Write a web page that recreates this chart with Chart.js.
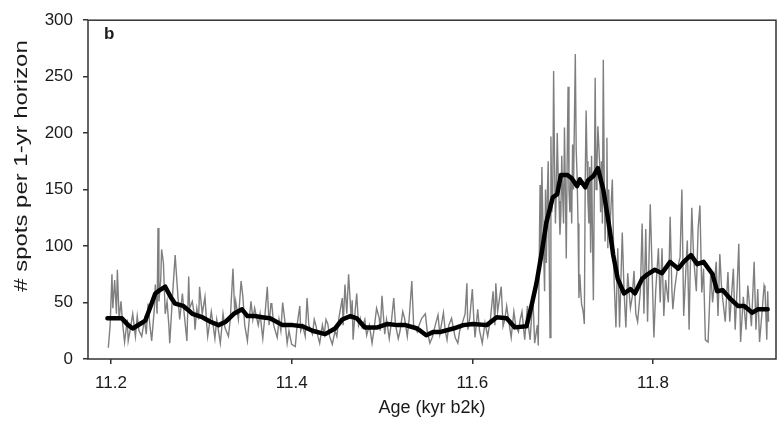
<!DOCTYPE html>
<html>
<head>
<meta charset="utf-8">
<script src="https://cdn.jsdelivr.net/npm/chart.js@4"></script>
<style>
  html, body { margin: 0; padding: 0; background: #fff; }
  canvas { display: block; }
</style>
</head>
<body>
<canvas id="spotsChart" width="784" height="423"></canvas>
<script>
// annual counts (grey); ages in years b2k
const annualAge = [
  11197,11199,11201,11202,11204,11206,11207,11209,11211,11213,11215,11218,11219,11221,11224,11227,11229,11231,11234,11237,
  11239,11241,11243,11245,11248,11249,11251,11252,11253,11255,11256,11258,11260,11262,11264,11265,11268,11271,11273,11275,
  11276,11279,11281,11284,11286,11287,11290,11292,11293,11295,11297,11298,11301,11304,11306,11307,11311,11313,11315,11317,
  11321,11324,11326,11330,11332,11335,11337,11338,11341,11344,11346,11348,11351,11353,11355,11357,11359,11363,11365,11368,
  11370,11373,11375,11377,
  11378,11380,11384,11386,11388,11390,11393,11395,11397,11400,11404,11406,11409,11410,11412,11415,11417,11419,11423,11425,
  11427,11429,11431,11434,11436,11438,11440,11442,11445,11448,11450,11452,11456,11457,11459,11461,11463,11466,11467,11468,
  11470,11472,11474,11476,11478,11481,11483,11486,11489,11491,11494,11497,11498,11500,11503,11505,11508,11510,11513,11515,
  11518,11520,11523,11525,11528,11530,11533,11535,11539,11541,11544,11548,11550,11553,11556,11559,11562,11564,
  11568,11570,11572,11574,11577,11581,11584,11586,11589,11592,11594,11595,11597,11600,11602,11603,11606,11608,11611,11614,
  11617,11620,11623,11625,11626,11628,11632,11634,11636,11638,11641,11643,11646,11648,11651,11653,11655,11657,11658,11661,
  11662,11664,11667,11669,11672,11673,
  11675,11676,11677,11678,11679,11680,11681,11682,11683,11684,
  11685,11686,11687,11688,11689,11690,11691,11692,11693,11694,
  11695,11696,11697,11698,11699,11700,11701,11702,11703,11704,
  11705,11706,11707,11708,11709,11710,11711,11712,11713,11714,
  11715,11716,11717,11718,11719,11720,11721,11722,11723,11724,
  11725,11726,11727,11728,11729,11730,11731,11732,11733,11734,
  11735,11736,11737,11738,11739,11740,11741,11742,11743,11744,
  11745,11746,11747,11748,11749,11750,11751,11752,
  11755,11757,11759,11761,11763,11766,11768,11770,11772,11775,11777,11779,11781,11783,11786,11788,11790,11792,11794,11797,
  11799,11801,11803,11806,11808,11810,11812,11814,11817,11819,11821,11822,11824,11827,11830,11832,11834,11838,11840,11841,
  11843,11845,11848,11850,11852,11854,11856,11858,11861,11864,11866,11870,11872,11874,11876,11880,11883,11885,11889,11891,
  11893,11895,11897,11900,11903,11905,11909,11912,11914,11916,11918,11921,11923,11924,11926,11927,11928
];
const annualSpots = [
  10,30,75,45,70,40,79,35,51,30,15,35,16,25,40,20,38,25,20,35,
  22,49,30,16,45,66,40,116,51,70,97,85,40,51,30,14,55,92,68,45,
  35,58,40,16,73,45,51,40,26,45,35,64,40,55,30,20,42,30,18,35,
  14,40,28,20,35,80,40,51,35,69,55,30,16,35,51,35,45,30,40,18,
  35,64,30,49,
  49,30,19,35,25,50,30,14,25,13,11,30,47,25,30,20,54,30,22,35,
  29,20,14,30,22,35,31,20,13,25,20,35,54,30,66,40,75,35,52,17,
  40,58,30,36,28,35,21,30,14,25,45,36,25,56,22,35,18,30,54,30,
  18,25,42,36,20,35,69,30,24,30,36,40,25,14,20,30,39,22,
  41,25,17,30,36,19,14,25,32,40,67,26,35,62,30,19,44,25,14,32,
  20,35,60,30,67,42,64,29,35,47,30,19,42,30,24,35,42,25,17,47,
  30,17,55,14,30,12,
  154,90,170,127,95,60,150,85,143,175,
  100,19,197,130,140,255,175,120,150,200,
  165,140,110,127,180,146,120,205,150,89,
  175,241,150,130,162,120,190,150,210,270,
  185,162,120,54,75,60,48,45,40,31,
  160,220,175,140,120,170,94,180,110,52,
  145,249,150,172,206,190,172,130,175,120,
  265,160,104,140,196,98,150,110,
  159,69,28,98,28,112,60,28,76,45,55,78,40,33,60,120,40,115,33,137,
  80,19,60,98,50,98,38,70,50,126,60,44,62,80,90,150,38,105,26,70,
  134,90,60,116,136,59,80,17,15,77,50,86,38,93,62,33,77,33,80,26,
  60,102,15,55,26,65,29,86,26,62,15,44,65,62,17,60,33
];

// smoothed curve (black)
const smoothAge = [
  11196,11212,11219,11224,11232,11238,11243,11249,11254,11260,11266,11271,11280,11286,11290,11301,11310,11319,11327,11336,
  11345,11351,11359,11367,11376,11390,11401,11412,11423,11437,11448,11456,11465,11472,11481,11495,11506,11517,11526,11539,
  11549,11557,11565,11579,11590,11601,11616,11627,11638,11647,11660,11666,11671,11677,11682,11689,11694,11698,11705,11710,
  11716,11719,11725,11728,11734,11739,11745,11752,11756,11761,11768,11775,11780,11788,11794,11802,11810,11819,11828,11834,
  11842,11849,11856,11866,11871,11877,11886,11894,11901,11910,11916,11927
];
const smoothSpots = [
  36,36,30,27,31,34,45,58,61,64,55,49,47,43,40,37,33,30,33,40,
  44,38,38,37,36,30,30,29,25,22,27,35,38,36,28,28,31,30,30,27,
  21,24,24,27,30,31,30,37,36,28,29,49,67,95,121,143,146,163,163,160,
  153,159,152,158,162,169,150,115,92,71,58,62,58,71,75,79,76,86,80,86,
  92,84,86,75,60,61,53,47,47,41,44,44
];

const xTicks = [11200, 11400, 11600, 11800];
const yTicks = [0, 50, 100, 150, 200, 250, 300];

const textColor = '#1a1a1a';
const axisColor = '#333333';
const fontFamily = '"Liberation Sans", Arial, sans-serif';

const frameAndLabels = {
  id: 'frameAndLabels',
  afterDraw(chart) {
    const { ctx, chartArea: a } = chart;
    ctx.save();
    ctx.strokeStyle = axisColor;
    ctx.lineWidth = 1.5;
    ctx.strokeRect(a.left, a.top, a.right - a.left, a.bottom - a.top);

    // panel letter
    ctx.fillStyle = textColor;
    ctx.font = 'bold 17px ' + fontFamily;
    ctx.textAlign = 'left';
    ctx.textBaseline = 'alphabetic';
    ctx.fillText('b', 104, 39);

    // y axis title, stretched along its length like the original
    ctx.font = '18px ' + fontFamily;
    ctx.translate(27, 166);
    ctx.rotate(-Math.PI / 2);
    ctx.scale(1.33, 1);
    ctx.textAlign = 'center';
    ctx.fillText('# spots per 1-yr horizon', 0, 0);
    ctx.restore();
  }
};

const ctx = document.getElementById('spotsChart').getContext('2d');
new Chart(ctx, {
  type: 'scatter',
  data: {
    datasets: [{
      label: 'smoothed',
      data: smoothAge.map((a, i) => ({ x: a, y: smoothSpots[i] })),
      showLine: true,
      borderColor: '#000000',
      borderWidth: 4.5,
      borderJoinStyle: 'round',
      borderCapStyle: 'round',
      pointRadius: 0,
      tension: 0,
      order: 0
    }, {
      label: 'annual',
      data: annualAge.map((a, i) => ({ x: a, y: annualSpots[i] })),
      showLine: true,
      borderColor: '#7f7f7f',
      borderWidth: 1.4,
      pointRadius: 0,
      tension: 0,
      order: 1
    }]
  },
  options: {
    responsive: false,
    devicePixelRatio: 1,
    animation: false,
    layout: { padding: { top: 15, right: 8, left: 0, bottom: 0 } },
    plugins: {
      legend: { display: false },
      tooltip: { enabled: false }
    },
    scales: {
      x: {
        type: 'linear',
        min: 11174.5,
        max: 11936.2,
        afterBuildTicks: (scale) => { scale.ticks = xTicks.map(v => ({ value: v })); },
        afterFit: (scale) => { scale.height = 64; },
        border: { display: false },
        grid: { drawOnChartArea: false, drawTicks: true, tickLength: 5, color: axisColor, lineWidth: 1.5 },
        ticks: {
          padding: 9,
          color: textColor,
          font: { family: fontFamily, size: 17 },
          maxRotation: 0,
          callback: (v) => (v / 1000).toFixed(1)
        },
        title: {
          display: true,
          text: 'Age (kyr b2k)',
          color: textColor,
          font: { family: fontFamily, size: 18 },
          padding: { top: 0, bottom: 4 }
        }
      },
      y: {
        min: 0,
        max: 300,
        afterBuildTicks: (scale) => { scale.ticks = yTicks.map(v => ({ value: v })); },
        afterFit: (scale) => { scale.width = 88; },
        border: { display: false },
        grid: { drawOnChartArea: false, drawTicks: true, tickLength: 5, color: axisColor, lineWidth: 1.5 },
        ticks: {
          padding: 10,
          color: textColor,
          font: { family: fontFamily, size: 17 }
        }
      }
    }
  },
  plugins: [frameAndLabels]
});
</script>
</body>
</html>
